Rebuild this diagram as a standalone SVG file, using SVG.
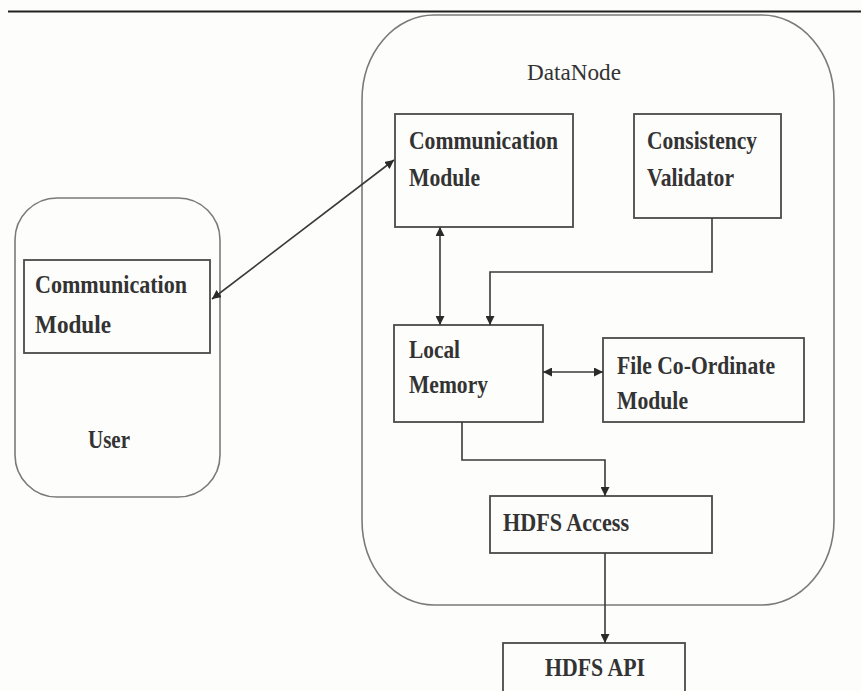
<svg xmlns="http://www.w3.org/2000/svg" width="861" height="691" viewBox="0 0 861 691">
<style>
.bg{fill:#fdfdfb}
.cont{fill:none;stroke:#7a7a7a;stroke-width:1.6}
.box{fill:#fdfdfb;stroke:#4a4a4a;stroke-width:1.8}
.lbl{font-family:"Liberation Serif","Times New Roman",serif;font-size:25px;font-weight:bold;fill:#333}
.ttl{font-family:"Liberation Serif","Times New Roman",serif;font-size:23px;fill:#333}
.con{fill:none;stroke:#3a3a3a;stroke-width:1.6}
</style>
<defs>
<marker id="ah" viewBox="0 0 10 10" refX="10" refY="5" markerWidth="9" markerHeight="9" markerUnits="userSpaceOnUse" orient="auto-start-reverse">
<path d="M0,0 L10,5 L0,10 z" fill="#2a2a2a"/>
</marker>
</defs>
<rect class="bg" x="0" y="0" width="861" height="691"/>
<line x1="8" y1="11.5" x2="861" y2="11.5" stroke="#222" stroke-width="1.8"/>

<g id="datanode">
<rect class="cont" x="362" y="15" width="472" height="590" rx="72" ry="85"/>
<text class="ttl" x="574" y="80" text-anchor="middle" textLength="94" lengthAdjust="spacingAndGlyphs">DataNode</text>
</g>

<g id="user">
<rect class="cont" x="15" y="198" width="205" height="299" rx="42" ry="42"/>
<text class="lbl" x="88" y="448" textLength="42" lengthAdjust="spacingAndGlyphs">User</text>
</g>

<g id="user-comm">
<rect class="box" x="24" y="260" width="186" height="93"/>
<text class="lbl" x="35" y="293" textLength="152" lengthAdjust="spacingAndGlyphs">Communication</text>
<text class="lbl" x="35" y="333" textLength="76" lengthAdjust="spacingAndGlyphs">Module</text>
</g>

<g id="dn-comm">
<rect class="box" x="395" y="114" width="178" height="113"/>
<text class="lbl" x="409" y="149" textLength="149" lengthAdjust="spacingAndGlyphs">Communication</text>
<text class="lbl" x="409" y="186" textLength="71" lengthAdjust="spacingAndGlyphs">Module</text>
</g>

<g id="consistency">
<rect class="box" x="634" y="114" width="147" height="104"/>
<text class="lbl" x="647" y="149" textLength="110" lengthAdjust="spacingAndGlyphs">Consistency</text>
<text class="lbl" x="647" y="186" textLength="87" lengthAdjust="spacingAndGlyphs">Validator</text>
</g>

<g id="local-memory">
<rect class="box" x="394" y="325" width="149" height="97"/>
<text class="lbl" x="409" y="358" textLength="51" lengthAdjust="spacingAndGlyphs">Local</text>
<text class="lbl" x="409" y="393" textLength="79" lengthAdjust="spacingAndGlyphs">Memory</text>
</g>

<g id="file-coord">
<rect class="box" x="603" y="338" width="201" height="84"/>
<text class="lbl" x="617" y="374" textLength="158" lengthAdjust="spacingAndGlyphs">File Co-Ordinate</text>
<text class="lbl" x="617" y="409" textLength="71" lengthAdjust="spacingAndGlyphs">Module</text>
</g>

<g id="hdfs-access">
<rect class="box" x="490" y="496" width="222" height="57"/>
<text class="lbl" x="503" y="531" textLength="126" lengthAdjust="spacingAndGlyphs">HDFS Access</text>
</g>

<g id="hdfs-api">
<rect class="box" x="503" y="643" width="182" height="60"/>
<text class="lbl" x="545" y="676" textLength="100" lengthAdjust="spacingAndGlyphs">HDFS API</text>
</g>

<g id="connectors">
<line class="con" x1="212" y1="299" x2="394" y2="160" marker-start="url(#ah)" marker-end="url(#ah)"/>
<line class="con" x1="440" y1="227" x2="440" y2="325" marker-start="url(#ah)" marker-end="url(#ah)"/>
<polyline class="con" points="712,218 712,272 490,272 490,325" marker-end="url(#ah)"/>
<line class="con" x1="543" y1="372" x2="603" y2="372" marker-start="url(#ah)" marker-end="url(#ah)"/>
<polyline class="con" points="462,422 462,460 605,460 605,496" marker-end="url(#ah)"/>
<line class="con" x1="605" y1="553" x2="605" y2="643" marker-end="url(#ah)"/>
</g>
</svg>
